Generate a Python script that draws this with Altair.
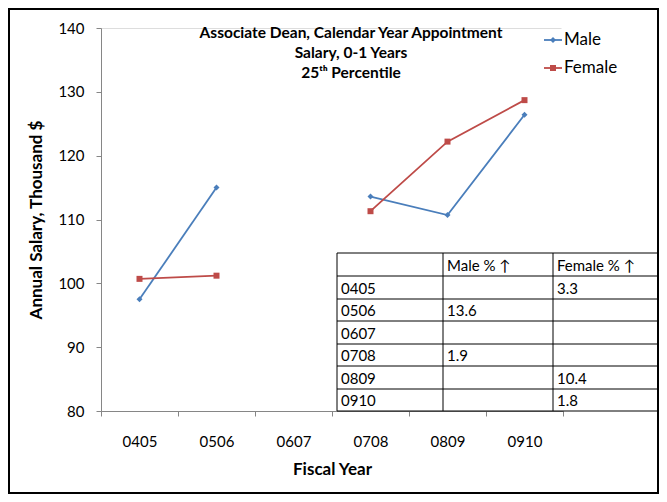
import altair as alt
import pandas as pd

# ---------------- data ----------------
years = ["0405", "0506", "0607", "0708", "0809", "0910"]
male = [97.5, 115.0, None, 113.6, 110.7, 126.4]
female = [100.7, 101.2, None, 111.3, 122.2, 128.7]
series_names = ["Male", "Female"]

table_header = ["", "Male % \u2191", "Female % \u2191"]
male_pct = ["", "13.6", "", "1.9", "", ""]
female_pct = ["3.3", "", "", "", "10.4", "1.8"]

title_lines = ["Associate Dean, Calendar Year Appointment",
               "Salary, 0-1 Years",
               "25\u1d57\u02b0 Percentile"]

# ---------------- layout / style ----------------
W, H = 462, 383
PL, PT = 93, 20
TOTAL_W, TOTAL_H = 651, 486
PR, PB = TOTAL_W - PL - W, TOTAL_H - PT - H
FONT = "Lato"
BLUE = "#4A7EBB"
RED = "#BE4B48"
AXIS_GRAY = "#868686"

# long table; a gap (None) starts a new line segment
rows = []
for name, vals in (("Male", male), ("Female", female)):
    seg = 0
    for y, v in zip(years, vals):
        if v is None:
            seg += 1
            continue
        rows.append({"year": y, "series": name, "value": v, "seg": f"{name}-{seg}"})
df = pd.DataFrame(rows)

x_enc = alt.X(
    "year:N", sort=years, bandPosition=0.5,
    scale=alt.Scale(type="band", domain=years, paddingInner=0, paddingOuter=0),
    axis=alt.Axis(title="Fiscal Year", labelAngle=0, tickBand="extent", grid=False,
                  gridOpacity=0,
                  domainColor=AXIS_GRAY, tickColor=AXIS_GRAY, tickSize=5,
                  labelFont=FONT, labelFontSize=15, labelColor="#000000",
                  labelPadding=18, titleFont=FONT, titleFontSize=17,
                  titleFontWeight="bold", titlePadding=12, titleColor="#000000"),
)
y_enc = alt.Y(
    "value:Q",
    scale=alt.Scale(domain=[80, 140], nice=False, zero=False),
    axis=alt.Axis(values=[80, 90, 100, 110, 120, 130, 140], grid=False,
                  title="Annual Salary, Thousand $",
                  domainColor=AXIS_GRAY, tickColor=AXIS_GRAY, tickSize=5,
                  labelFont=FONT, labelFontSize=15, labelColor="#000000",
                  labelPadding=12, titleFont=FONT, titleFontSize=17,
                  titleFontWeight="bold", titlePadding=12, titleColor="#000000"),
)
color_enc = alt.Color("series:N", scale=alt.Scale(domain=series_names, range=[BLUE, RED]), legend=None)
shape_enc = alt.Shape("series:N", scale=alt.Scale(domain=series_names, range=["diamond", "square"]), legend=None)

base = alt.Chart(df)
lines = base.mark_line(strokeWidth=1.8).encode(
    x=x_enc, y=y_enc, color=color_enc, detail="seg:N")
points = base.mark_point(filled=True, size=36, opacity=1).encode(
    x=x_enc, y=y_enc, color=color_enc, shape=shape_enc)
main = alt.layer(lines, points)

# ---------------- table (pixel layout) ----------------
col_x = [236, 342, 452]
row_y = [225, 248, 271, 293, 316, 338, 361, 383]
right_edge = TOTAL_W - PL
cells = []
table_rows = [table_header] + [[y, m, f] for y, m, f in zip(years, male_pct, female_pct)]
for r, row in enumerate(table_rows):
    for c, txt in enumerate(row):
        cells.append({"px": col_x[c] + 4, "py": (row_y[r] + row_y[r + 1]) / 2 + 1, "t": txt})
cells_df = pd.DataFrame(cells)

hlines = pd.DataFrame({"y": row_y, "x1": [col_x[0]] * len(row_y), "x2": [right_edge] * len(row_y)})
vlines = pd.DataFrame({"x": col_x, "y1": [row_y[0]] * 3, "y2": [row_y[-1]] * 3})

px = lambda f: alt.X(f, scale=None, axis=None)
py = lambda f: alt.Y(f, scale=None, axis=None)

# white strip hiding the stray frame edge at the right of the plot area
edge_cover = alt.Chart(pd.DataFrame({"a": [0]})).mark_rule(color="white", strokeWidth=3).encode(
    x=alt.value(W), y=alt.value(-2), y2=alt.value(row_y[0]))

table_bg = alt.Chart(pd.DataFrame({"a": [0]})).mark_rect(fill="white").encode(
    x=alt.value(col_x[0]), x2=alt.value(right_edge), y=alt.value(row_y[0]), y2=alt.value(row_y[-1]))
table_h = alt.Chart(hlines).mark_rule(color="black", strokeWidth=1).encode(
    x=px("x1:Q"), x2="x2:Q", y=py("y:Q"))
table_v = alt.Chart(vlines).mark_rule(color="black", strokeWidth=1).encode(
    x=px("x:Q"), y=py("y1:Q"), y2="y2:Q")
table_txt = alt.Chart(cells_df).mark_text(align="left", baseline="middle", font=FONT,
                                          fontSize=15, color="black").encode(
    x=px("px:Q"), y=py("py:Q"), text="t:N")

# ---------------- title ----------------
title_df = pd.DataFrame({"t": title_lines, "py": [5, 25, 45]})
title = alt.Chart(title_df).mark_text(font=FONT, fontSize=15.5, fontWeight="bold",
                                      align="center", baseline="middle", color="black").encode(
    x=alt.value(250), y=py("py:Q"), text="t:N")

# ---------------- legend ----------------
leg_df = pd.DataFrame({"series": series_names, "py": [12, 40]})
leg_line = alt.Chart(leg_df).mark_rule(strokeWidth=1.8).encode(
    x=alt.value(443), x2=alt.value(461), y=py("py:Q"), color=color_enc)
leg_pt = alt.Chart(leg_df).mark_point(filled=True, size=36, opacity=1).encode(
    x=alt.value(452), y=py("py:Q"), color=color_enc, shape=shape_enc)
leg_txt = alt.Chart(leg_df).mark_text(align="left", baseline="middle", font=FONT,
                                      fontSize=17, color="black").encode(
    x=alt.value(463), y=py("py:Q"), text="series:N")

# ---------------- outer border ----------------
border = alt.Chart(pd.DataFrame({"a": [0]})).mark_rect(fill=None, stroke="black", strokeWidth=2).encode(
    x=alt.value(-PL + 1), x2=alt.value(W + PR - 1), y=alt.value(-PT + 1), y2=alt.value(H + PB - 1))

chart = alt.layer(
    main, edge_cover, table_bg, table_h, table_v, table_txt, title, leg_line, leg_pt, leg_txt, border
).resolve_scale(x="independent", y="independent", color="shared", shape="shared").properties(
    width=W, height=H,
    padding={"left": PL, "top": PT, "right": PR, "bottom": PB},
    autosize=alt.AutoSizeParams(type="none"),
).configure_view(stroke="transparent", strokeWidth=0, strokeOpacity=0).configure_axis(
    gridOpacity=0).configure(background="white")

chart.save("out.html", embed_options={"renderer": "svg", "actions": False})
